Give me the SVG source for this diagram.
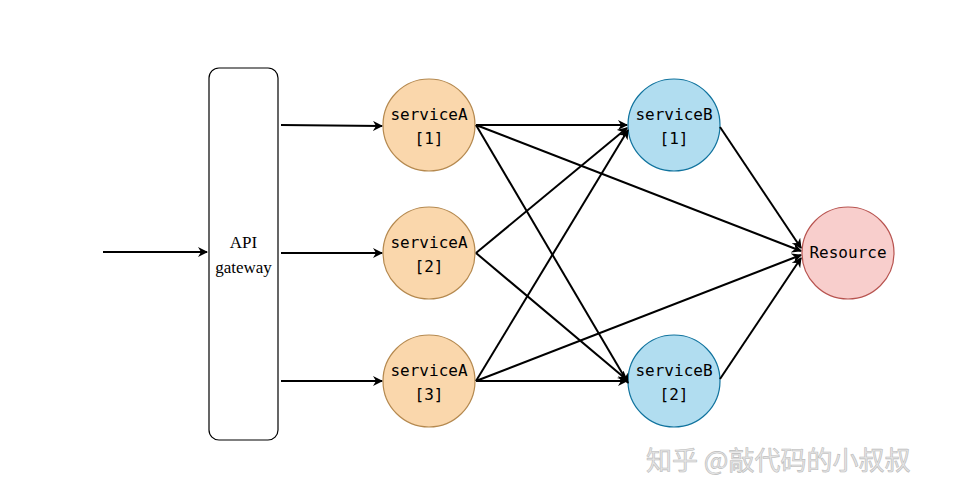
<svg xmlns="http://www.w3.org/2000/svg" width="962" height="500" viewBox="0 0 962 500">
<defs>
<marker id="ah" markerWidth="10" markerHeight="10" refX="9" refY="5" orient="auto" markerUnits="userSpaceOnUse" viewBox="0 0 10 10"><path d="M0,0 L10,5 L0,10 L3,5 Z" fill="#000"/></marker>
</defs>
<style>
.e{stroke:#000;stroke-width:2;fill:none;marker-end:url(#ah)}
.a{fill:#fad7ac;stroke:#b5894f;stroke-width:1.2}
.b{fill:#b1ddf0;stroke:#10739e;stroke-width:1.2}
.r{fill:#f8cecc;stroke:#b85450;stroke-width:1.2}
.t{font-family:"DejaVu Sans Mono",monospace;font-size:16px;text-anchor:middle;fill:#000}
.g{font-family:"Liberation Serif",serif;font-size:17px;text-anchor:middle;fill:#000}
</style>
<rect width="962" height="500" fill="#fff"/>
<g id="gateway"><rect x="209" y="68" width="69" height="372" rx="10" fill="#fff" stroke="#000" stroke-width="1.2"/><text class="g" x="243.5" y="248">API</text><text class="g" x="243.5" y="273">gateway</text></g>
<g id="serviceA1"><circle class="a" cx="429" cy="125" r="46"/><text class="t" x="429" y="120">serviceA</text><text class="t" x="429" y="144">[1]</text></g>
<g id="serviceA2"><circle class="a" cx="429" cy="253" r="46"/><text class="t" x="429" y="248">serviceA</text><text class="t" x="429" y="272">[2]</text></g>
<g id="serviceA3"><circle class="a" cx="429" cy="381" r="46"/><text class="t" x="429" y="376">serviceA</text><text class="t" x="429" y="400">[3]</text></g>
<g id="serviceB1"><circle class="b" cx="674" cy="125" r="46"/><text class="t" x="674" y="120">serviceB</text><text class="t" x="674" y="144">[1]</text></g>
<g id="serviceB2"><circle class="b" cx="674" cy="381" r="46"/><text class="t" x="674" y="376">serviceB</text><text class="t" x="674" y="400">[2]</text></g>
<g id="resource"><circle class="r" cx="848" cy="253" r="46"/><text class="t" x="848" y="258">Resource</text></g>
<g id="connectors">
<line class="e" x1="103" y1="252" x2="207" y2="252"/>
<line class="e" x1="281" y1="125" x2="382" y2="126"/>
<line class="e" x1="281" y1="253" x2="382" y2="253"/>
<line class="e" x1="281" y1="381" x2="382" y2="381"/>
<line class="e" x1="476" y1="125" x2="627" y2="125"/>
<line class="e" x1="476" y1="125" x2="801" y2="251"/>
<line class="e" x1="476" y1="125" x2="628" y2="383"/>
<line class="e" x1="476" y1="253" x2="627" y2="128"/>
<line class="e" x1="476" y1="253" x2="627" y2="380"/>
<line class="e" x1="476" y1="381" x2="628" y2="130"/>
<line class="e" x1="476" y1="381" x2="627" y2="381"/>
<line class="e" x1="476" y1="381" x2="801" y2="255"/>
<line class="e" x1="720" y1="127" x2="801" y2="248"/>
<line class="e" x1="720" y1="379" x2="801" y2="258"/>
</g>
<text x="646" y="470" font-family="'Noto Sans CJK SC',sans-serif" font-size="26" fill="#e6e6e6" stroke="#bbb" stroke-width="0.6">知乎 @敲代码的小叔叔</text>
</svg>
